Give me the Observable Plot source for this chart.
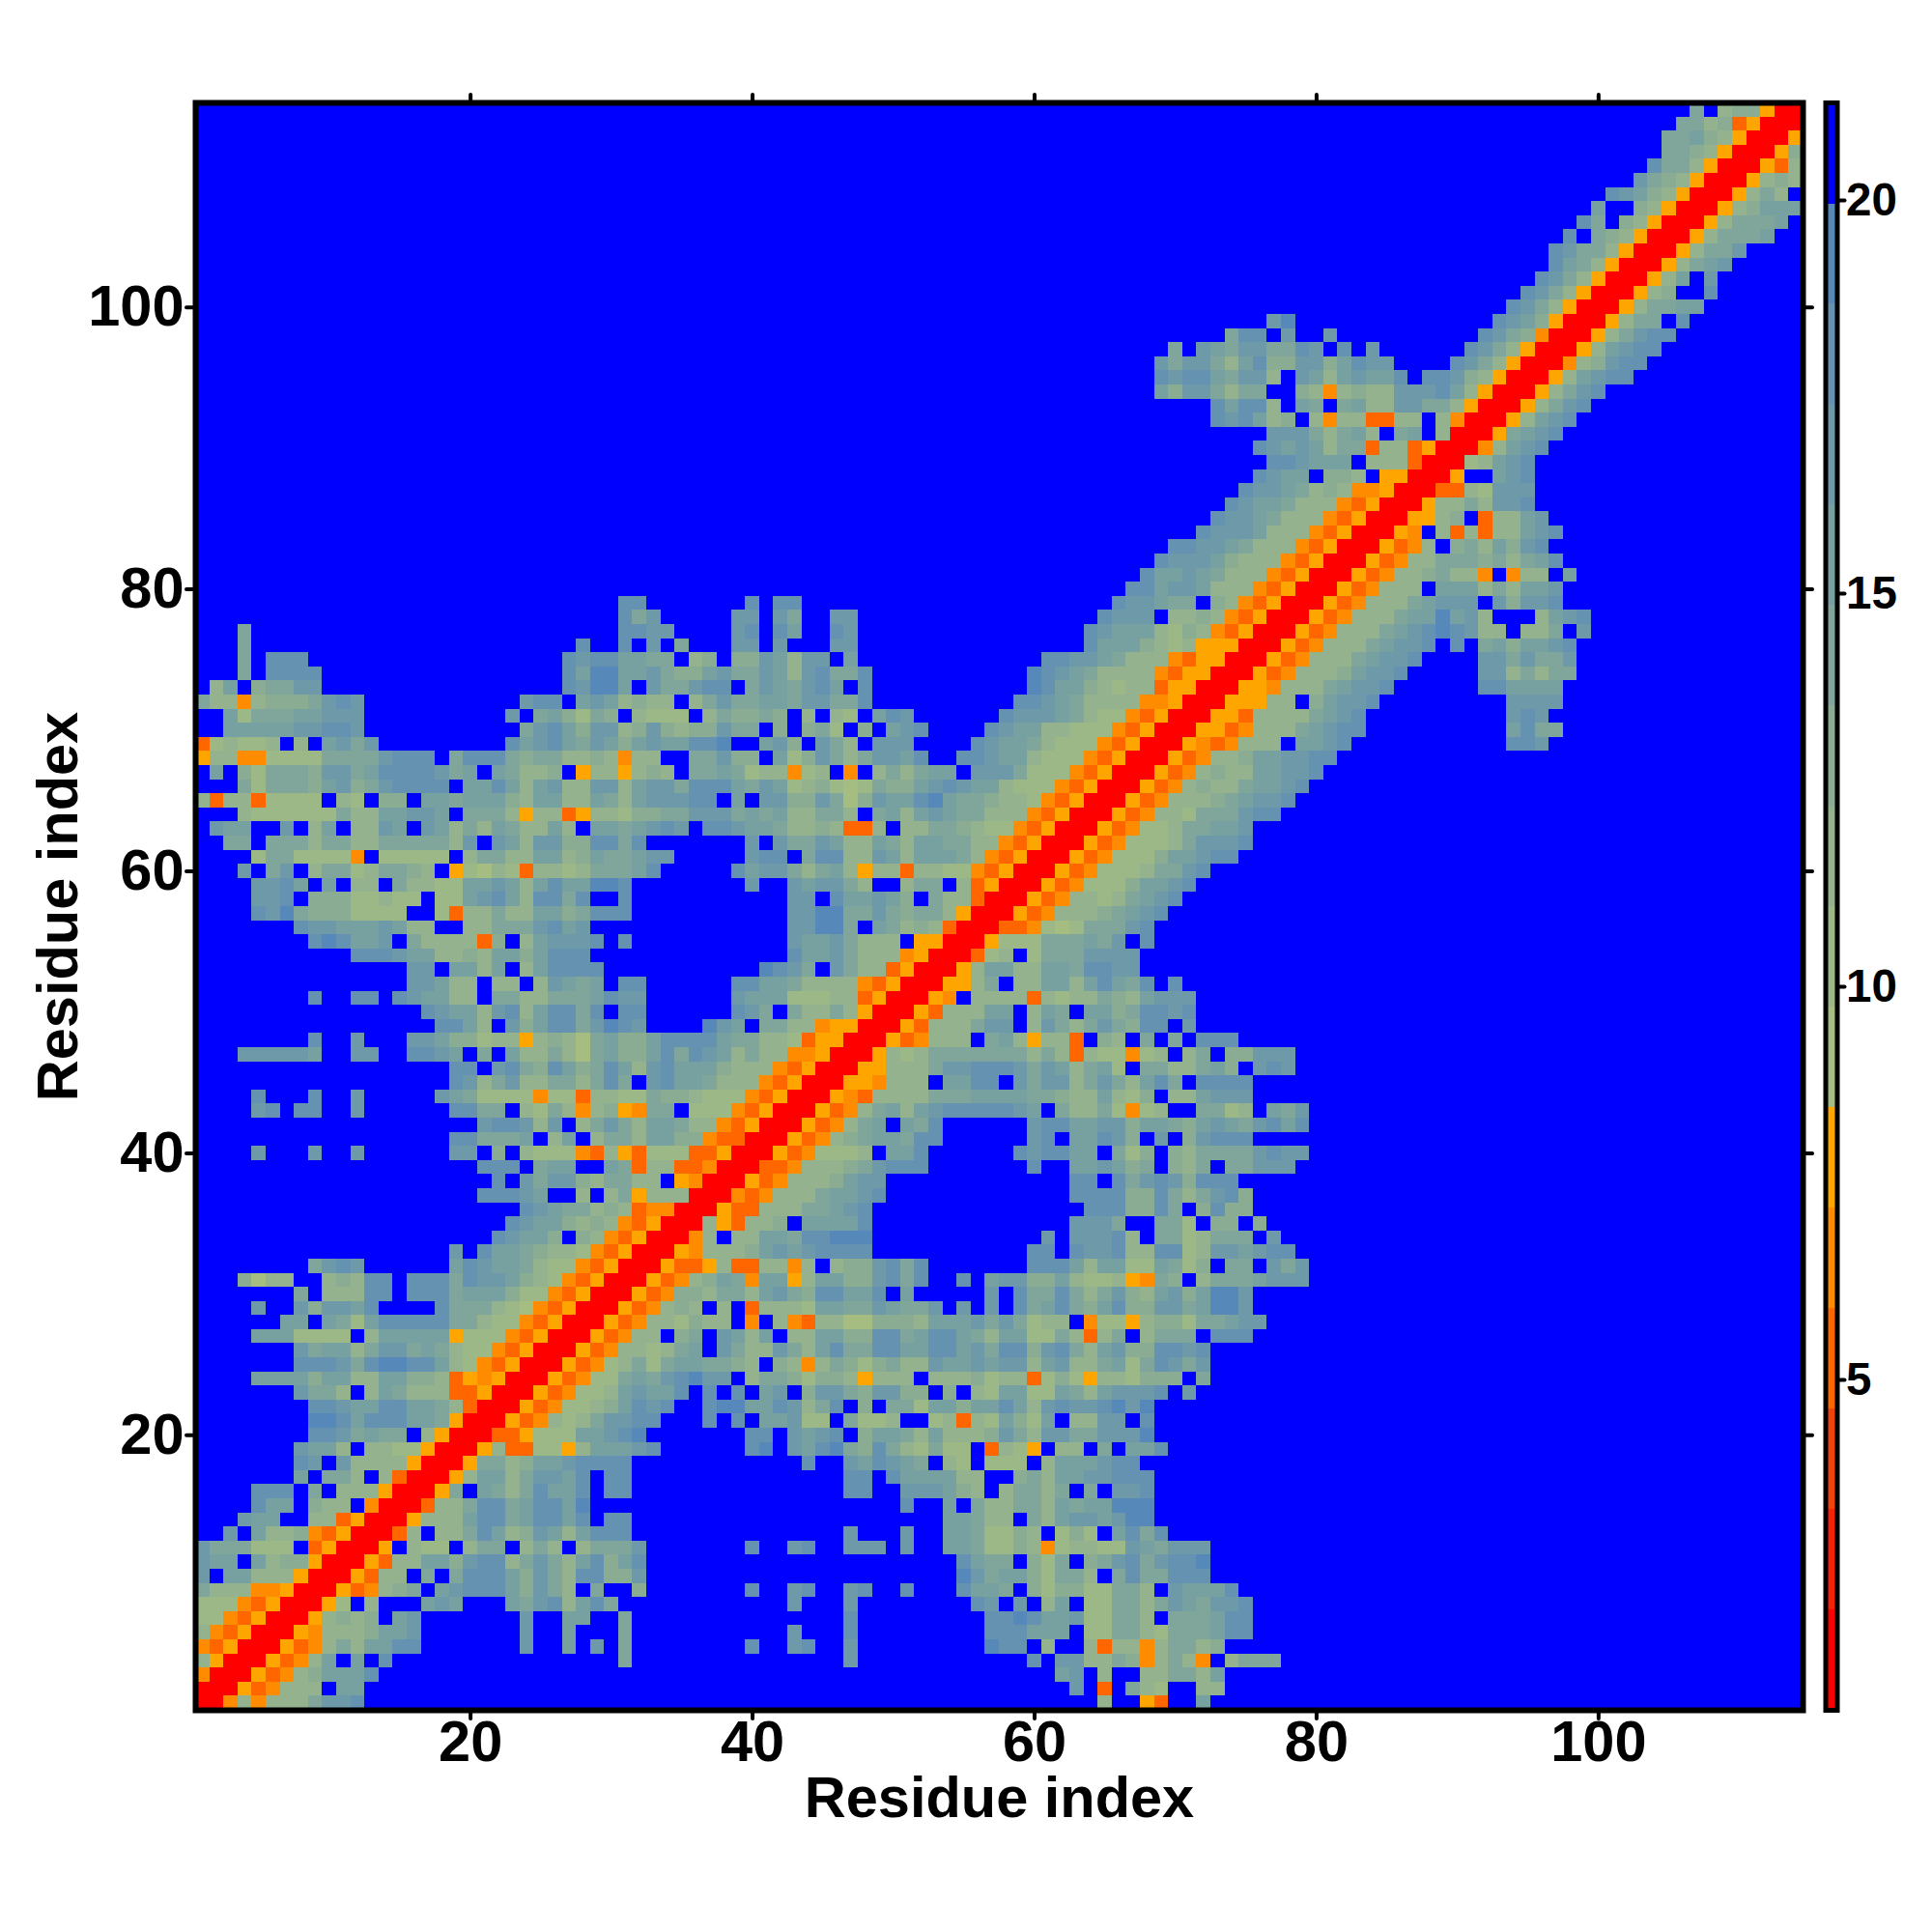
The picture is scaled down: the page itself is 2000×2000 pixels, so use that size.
<!DOCTYPE html>
<html><head><meta charset="utf-8">
<script src="https://cdn.jsdelivr.net/npm/d3@7"></script>
<script src="https://cdn.jsdelivr.net/npm/@observablehq/plot@0.6"></script>
<style>html,body{margin:0;background:#fff}#chart{display:flex;width:2000px;height:2000px}svg{max-width:none;flex:none}</style>
</head><body><div id="chart"></div>
<script>
// Distance classes read per cell. Each string is one row, row 1 first. '.' is beyond the cut-off.
const cols1to32 = [
"rrd3d3335778","rrroed333.66","drrroed346668","3orrroed36.6.8................5.","deorrroed3536688.......7..6.7.5.","3deorrrod3334667.......7..6...5.",
"22deorrro3434.67.......7..66..5.","222deorrro2.3...676...65783685..","5333ddorrroed345.6788864753.5..4","7.66333orrroe33.5.58886475388447",
"766.6344orrroe336647883575368468","7555222.eorrro.322.355.353.35557","..7.6334deorrre3.33586347636888.","...766..33eorrro333688568868.88.",
"....866.433.drrre33588568869....","....888.5.333orrro5.65358668.88.",".......6.553.3errro366357768.88.",".......87.73333orrro55346678888.",
".......7663.3322orrro3ee22o36667","........8875655.3orrreeo22266789","........9986888665orrroed3235778","........88766886653errroed223468",
".......7553.365333eeorrroed22367","....66664663366443eodorrroed2256",".......8887589988632deorrroed235",".......75663577565322deorrroed33",
"....6662222.366666o222deorrroed3","......66.65268888855322deorrroed","....7..747768....8555321deorrroe",".......5.33388.8885666422deorrro",
"...4133..34388.88858776432deorrr","........5787......687665322deorr","..................7.86654332deor",".....................87664.43deo",
"......................87664343de",".......................87655343e","....................88876..3.35o",".....................8.757743553",
"....................888.566..65e","....7...7..7......77.4.3222de3oe","..................885556.36.3553","....................788737.35753",
"....78.88..7......8855.3253d34od","....8...8..7.....7652222d22e3322","..................8735733553585.","..................88.78548645863",
"...777776..77..8876.5.6335315644","........8..7...77644233o34315644",".................8863.7468857987","................8766378368858.88",
"........8..88.876633.55335556877","...............77633.33.37656.88","...............77.6636.368888...","...........88876633436646888....",
"........898667.53333e4.367778.8.",".......8776667633..335557867....","....87954442222..2e335336645888.","....778.44422322.22678638858..8.",
"....7786.6.33.53322667636866998.","...7.57.355235543.o2132e33235556","....2552222d.22222.3553366346556","..55.555355335555537.76377448858",
".766..7.36.3376.76353653363.6656","...322222253366776.5553o33eo3324","3e33e2222.32.44.6656664366336536","...525554674578888.6686367337736",
".6.42555477568888756.65334.o33o3","o33dd222255557888.588854553343d3","e23223.3.6757.........8678657646","..6666677887...........578647734",
"..6255566777..........7.564254.3","533d34445787...........788.67634",".36.45577.................87996.","...5.8888.................869966",
"...5.888..................878866","...5.......................8..8.","...5..........................88","..............................85",
"..............................88"
];
const cols33to64 = [
"","..............................7.",".............................67.","..............7............8.773",".......8..78..7.........988.3..3",
"..........7...8.........888666.2","..............8.........88986672","..........7...7........87.7.36.2",".......8..78..78..8...8665.42442",
"......................9756642553","......................8655.425.4",".......8..78..777.7..6652243d233","..............7...7..6652243.242",
".....................66533.53677","..................8..6.533553656","..............88..777643.35535.5","..............88.8666633..453667",
"...........8..768765.32.222.3666","8......89.7689548532522.e32o.33.",".......88.7678.46653633347537755","8...8.8.66722.5223..23e326426.33",
"78..8996687358.4.552664668637877","668.8.8.67.477547744.4.326622653","578977.35542443o333.3334233e242o","25665543.43d35424533766767736733",
"2356.753375368558866886758847853","3.45.7636.336644885688653662253e","332433.d.3de331144436667575233.d","d343.3.e3332665576557.7.7.856854",
"ed443553675488668.6.....7.855853","oed3465d66o366447858..8.67744632","roeeo3ee33d3.3447858.......88863","rrod333467678888...........88.87",
"rrrd3.3366588999............7.77","orrr3oe334.66668..............77","ddrrroee33355678...............8","333rrrded33356678.............88",
"3.odrrroed3334677.............88","33eedrrreed333457888.......8..66","222eeorrroed2223.668......878866","6644deerrroed34566588......78.66",
"66533deorrroed356.658......78866","55.222deorrroed3563678888876.533","5443222deorrrode3333555666655433","78665333deorrrood333.6688.757735",
"786664333deorrroo333577888757635","6858763533ddorrro3235555555353e3","68888655332eoorrroed333.563o33e.","....976.5533doorrroe333577.37535",
"......875.53353orrroe33366.365.6","......766622233eorrrod.3333e3233","......886653333deorrroo35.336636","........9875.7533eorrro366336658",
"..........86675333dorrre23.25557","..........76675333.oorrro2225556","..........77995.65343errreed2125","..........779955754553orrroed333",
"..........77.866764.533errroed33",".......7..767753..355.3eorrroed2","8.....867753563o33e3322deorrroed","77.....788.5883376366653deorrroe",
".......7.7557633653665533deorrro","787.8876653343ee3.33554322deorrr","455777565633553.56367655333deorr","77788.6.77447514766896554332deor",
"77588865762342125446787663222deo","43.5565233d23.d.353566.7775222de","3..55744.62475357768..887663222d","766889..674.753.777....876653222",
"74344755.4.452.4.678....87663322","222.354454.3.32.687......8777653","33.3575566577558..........887653","755788.5765786.8...........98664",
"7544675576378558...........98765","55.34.4476377.6.............8877","7.5...77.7...77................8","77....78.86..87................8",
"7.....77.75..77",".......8.88"
];
const cols65on = [
"3..oe..6","e.532..33","3..335536","354d353d.3555","e33d35534","25532555688","2553.555688","25535765778","2553.76668",".5855888",
"57857889","22765777",".6858","6799","6999",".778","7888","788","5.668","7779","77.8","8979","67778.7","332444.5","56258757","67448878",
"35.3555.888","22o344255677","68447756997","57436746997","23od54.35556777","66226524.55.757","78338823776788","783.5523555.7","75..552.44.4",
"884485.4844","88448535784",".857874888","7645.435.55777",".524.4355557877","874.7.47888","774665467657868","52d23..5523.657","6324.336777",
"753685.8888","62.5533564.787","22d23.35.44777","43.5.5.888","75488.7","6458878","5436777","8658.8","877","777","57.8","5578","45678","235678",
"2246678","22235578","d222466788","ed222357778","oed22355667","roed332555788",
"rroed333456778","rrroed343356678","orrroed343366778","eorrroed334667788","deorrroded333.6678...........887","2deorrrooed33356788..........6855",
"22deorrrooe33335678..........787","333ddorrrooo33.46778.........7777","3233eoorrrood33356778......886666","3333deoorrroed33346778.....7735355",
"65333deoorrroed33356778....7757557","6664323ooorrroed33356778.8.5646678","76663243deorrroed333567898733.335.7","8777.3343deorrroed3335669673...3678",
".877655.43deorrroed33356777.74778","..886776333deorrroed333.666353667","...866765333deorrroed334533d.d33.6","....877764333deorrroed33555453568",
".....887765333deorrroed3.4536478",".......87776333deorrrod.3e3e33678","........87765333deorrroo34.e3367",".........87665333deorrro3353778",
"..........87765343ddorrree32777","...........8766.443.oorrro..678","............887666.333errr23678","...........87676355e33eorrrd3678",
"............77753563.56.3rrro5678","........878634.3d33ee33.3drrro3678","........86883.65.563377553orrro3578","....64775355..43d3433777863orrro3578",
"....878865773.76367668.88743orrro36788","....75775368447746877....8753orrrd34788"
];
const topRowStart = [70,74,77,94,95,96,97,97,98,99,100,101,103,104,105,105,106,107];
const topRowCells = [
"5.765775587.8.7......8753orrro36788","588.7..7..........8754drrro35788","79..............8764orrro355.8","8753orrro35566","8753orrro34..8",
"8753orrro36.7","8653orrro3567","87553orrro3557","8.543orrro35556","85.43orrro35556","6..43orrro34666","87643orrro353.","7543orrro343",
"8553orrroe3","5543orrro4","55643orrro","5534eorrr","5.344orr"
];
const classKeys = ["r","e","d","o","1","2","3","4","5","6","7","8","9","."];
const classValues = [1.4,5.2,6.5,7.8,9.1,10.4,11.7,12.9,14.2,15.5,16.8,18,19.3,20.6];
const colorEdges = [2.08,3.35,4.63,5.91,7.19,8.46,9.74,11.02,12.29,13.57,14.85,16.12,17.4,18.68,19.95];
const bandColors = ["#ff0000","#f52208","#f2420c","#ff6600","#ff8c00","#ffa500","#a5bd80","#9cb887","#93b28d","#8aac93","#80a59a","#77a0a1","#6e99a8","#6592b0","#5688b9","#0000ff"];
const barLimits = [0.8,21.24];
const axisTicks = [20,40,60,80,100];
const barTicks = [5,10,15,20];
const axisLabel = "Residue index";

const N = 114;
const valueOf = Object.fromEntries(classKeys.map((k,i)=>[k,classValues[i]]));
const cells = [];
for(let r=1;r<=N;r++){
  let row;
  if(r<=96){
    row = (cols1to32[r-1]||"").padEnd(32,".")+(cols33to64[r-1]||"").padEnd(32,".")+cols65on[r-1];
  } else {
    row = ".".repeat(topRowStart[r-97]-1)+topRowCells[r-97];
  }
  row = row.padEnd(N,".");
  for(let c=1;c<=N;c++){
    cells.push({col:c,row:r,v:valueOf[row[c-1]]});
  }
}
const colorScale = {type:"threshold",domain:colorEdges,range:bandColors};
const font = {fontFamily:"Liberation Sans",background:"white",color:"black"};
const main = Plot.plot({
  width:1880,height:2000,marginLeft:202,marginRight:14,marginTop:106,marginBottom:230,
  style:font,
  x:{domain:[0.5,114.5]},y:{domain:[0.5,114.5]},color:colorScale,
  marks:[
    Plot.rect(cells,{x1:d=>d.col-0.5,x2:d=>d.col+0.5,y1:d=>d.row-0.5,y2:d=>d.row+0.5,fill:"v",shapeRendering:"crispEdges"}),
    Plot.axisX(axisTicks,{anchor:"bottom",label:null,tickSize:9,tickPadding:1,fontSize:59.5,fontWeight:"bold",strokeWidth:4,strokeLinecap:"round"}),
    Plot.axisX(axisTicks,{anchor:"top",label:null,tickSize:9,tickFormat:()=>"",strokeWidth:4,strokeLinecap:"round"}),
    Plot.axisY(axisTicks,{anchor:"left",label:null,tickSize:9,tickPadding:3,fontSize:59.5,fontWeight:"bold",strokeWidth:4,strokeLinecap:"round"}),
    Plot.axisY(axisTicks,{anchor:"right",label:null,tickSize:9,tickFormat:()=>"",strokeWidth:4,strokeLinecap:"round"}),
    Plot.frame({stroke:"black",strokeWidth:6}),
    Plot.text([axisLabel],{frameAnchor:"bottom",dy:110,fontSize:59.5,fontWeight:"bold",fill:"black"}),
    Plot.text([axisLabel],{frameAnchor:"left",textAnchor:"middle",dx:-142,rotate:-90,fontSize:59.5,fontWeight:"bold",fill:"black"})
  ]
});
const edges = [barLimits[0],...colorEdges,barLimits[1]];
const bar = Plot.plot({
  width:120,height:2000,marginLeft:9.5,marginRight:98.5,marginTop:106,marginBottom:230,
  style:font,
  x:{domain:[0,1],axis:null},y:{domain:barLimits},color:colorScale,
  marks:[
    Plot.rect(d3.range(edges.length-1),{x1:()=>0,x2:()=>1,y1:i=>edges[i],y2:i=>edges[i+1],fill:i=>(edges[i]+edges[i+1])/2,shapeRendering:"crispEdges"}),
    Plot.frame({stroke:"black",strokeWidth:5}),
    Plot.axisY(barTicks,{anchor:"right",label:null,tickSize:7,tickPadding:2,tickFormat:d=>String(d),fontSize:47.5,fontWeight:"bold",strokeWidth:4,strokeLinecap:"round"})
  ]
});
document.getElementById("chart").append(main,bar);
</script></body></html>
